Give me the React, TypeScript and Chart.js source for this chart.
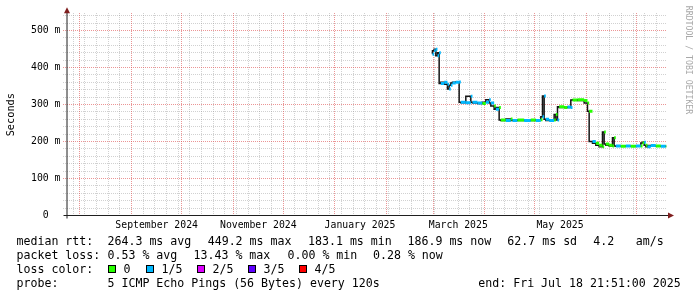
import React, { useEffect, useRef } from "react";
import { Chart, registerables } from "chart.js";

Chart.register(...registerables);

// ---------------- data ----------------
const END_TIME = "2025-07-18T21:51:00Z";
const SPAN_DAYS = 360;

const sampleDates = [
  "2025-02-28", "2025-03-01", "2025-03-02", "2025-03-03", "2025-03-04", "2025-03-05", "2025-03-07", "2025-03-09", "2025-03-10", "2025-03-11", "2025-03-12", "2025-03-14", "2025-03-16",
  "2025-03-17", "2025-03-20", "2025-03-23", "2025-03-24", "2025-03-27", "2025-03-30", "2025-04-01", "2025-04-03", "2025-04-04", "2025-04-06", "2025-04-07", "2025-04-09",
  "2025-04-10", "2025-04-13", "2025-04-16", "2025-04-17", "2025-04-20", "2025-04-24", "2025-04-28", "2025-05-01", "2025-05-04", "2025-05-05", "2025-05-06", "2025-05-07", "2025-05-09", "2025-05-12", "2025-05-13", "2025-05-14",
  "2025-05-15", "2025-05-18", "2025-05-20", "2025-05-22", "2025-05-23", "2025-05-26", "2025-05-30", "2025-06-01", "2025-06-02",
  "2025-06-04", "2025-06-06", "2025-06-08", "2025-06-10", "2025-06-11", "2025-06-12", "2025-06-14", "2025-06-16", "2025-06-17", "2025-06-18", "2025-06-21", "2025-06-24", "2025-06-27", "2025-06-30", "2025-07-03", "2025-07-04", "2025-07-05", "2025-07-06", "2025-07-07", "2025-07-09", "2025-07-12", "2025-07-15", "2025-07-18",
];

const medianRttMs = [
  436, 445, 449, 432, 440, 357, 360, 355, 342, 352, 358, 360, 361,
  306, 305, 322, 306, 304, 303, 306, 313, 304, 296, 287, 292,
  258, 257, 261, 257, 258, 257, 258, 257, 259, 267, 323, 260, 257, 258, 273, 258,
  294, 292, 293, 292, 312, 313, 311, 304, 282,
  200, 195, 190, 186, 226, 193, 190, 188, 210, 188, 187, 188, 187, 188, 188, 196, 198, 190, 186, 189, 188, 187, 187,
];

const lossLevel = [
  1, 1, 1, 1, 1, 1, 1, 1, 1, 1, 1, 1, 1,
  1, 1, 1, 1, 1, 0, 1, 1, 1, 0, 1, 0,
  0, 1, 0, 1, 0, 1, 0, 1, 0, 1, 1, 1, 1, 0, 0, 1,
  0, 0, 1, 1, 0, 0, 0, 0, 0,
  1, 0, 0, 0, 0, 0, 0, 0, 0, 1, 0, 1, 0, 1, 0, 0, 1, 0, 1, 1, 0, 1, 0,
];

const lossLabels = ["0", "1/5", "2/5", "3/5", "4/5"];
const lossColors = ["#26ff00", "#00b8ff", "#dd00ff", "#5e00ff", "#ff0000"];

const xLabelMonths = ["2024-09", "2024-11", "2025-01", "2025-03", "2025-05"];
const xLabelTexts = ["September 2024", "November 2024", "January 2025", "March 2025", "May 2025"];

const yLabelValues = [0, 100, 200, 300, 400, 500];
const yLabelTexts = ["0  ", "100 m", "200 m", "300 m", "400 m", "500 m"];
const Y_MAX = 545;
const Y_MINOR_STEP = 20;
const Y_MAJOR_STEP = 100;

const rttStats = ["264.3 ms avg", "449.2 ms max", "183.1 ms min", "186.9 ms now", "62.7 ms sd", "4.2", "am/s"];
const lossStats = ["0.53 % avg", "13.43 % max", "0.00 % min", "0.28 % now"];
const probeText = "5 ICMP Echo Pings (56 Bytes) every 120s";
const endText = "end: Fri Jul 18 21:51:00 2025";

// ---------------- layout / style ----------------
const W = 697;
const H = 297;
const MONO = "'DejaVu Sans Mono', monospace";
const MINOR_GRID = "rgba(140,140,140,0.4)";
const MAJOR_GRID = "rgba(222,79,79,0.6)";
const ARROW = "#801f1f";
const AXIS = "#1f1f1f";
const DAY = 86400000;

const rttX = [107.5, 207.7, 308, 407.5, 507.3, 593.2, 635.8];
const lossX = [107.5, 193.5, 287.5, 373];
const boxX = [108, 146, 197, 248, 299];
const LEG_LEFT = 16.5;
const LINE_Y = [245, 259, 273, 287];

function gridTimes(xMin: number, xMax: number) {
  const d0 = new Date(xMin);
  const majors: number[] = [];
  let m = d0.getUTCMonth() + 1;
  for (;;) {
    const t = Date.UTC(d0.getUTCFullYear(), m, 1);
    if (t > xMax) break;
    majors.push(t);
    m++;
  }
  const minors: number[] = [];
  let sun = Date.UTC(d0.getUTCFullYear(), d0.getUTCMonth(), d0.getUTCDate() + 1);
  while (new Date(sun).getUTCDay() !== 0) sun += DAY;
  for (let t = sun; t <= xMax; t += 7 * DAY) if (!majors.includes(t)) minors.push(t);
  return { majors, minors };
}

const gridPlugin = {
  id: "rrdGrid",
  beforeDatasetsDraw(chart: any) {
    const ctx: CanvasRenderingContext2D = chart.ctx;
    const { left, right, top, bottom } = chart.chartArea;
    const xs = chart.scales.x;
    const ys = chart.scales.y;
    const { majors, minors } = gridTimes(xs.min, xs.max);
    const x0 = Math.floor(left) - 3;
    const y0 = Math.floor(top);
    const y1 = Math.floor(bottom);
    const x1 = Math.floor(right);
    ctx.save();
    ctx.lineWidth = 1;
    ctx.setLineDash([1, 1]);
    ctx.lineDashOffset = 0;
    const vline = (t: number, color: string) => {
      const px = Math.round(xs.getPixelForValue(t) - 0.5) + 0.5;
      ctx.strokeStyle = color;
      ctx.beginPath();
      ctx.moveTo(px, y0);
      ctx.lineTo(px, y1);
      ctx.stroke();
    };
    const hline = (v: number, color: string) => {
      const py = Math.round(ys.getPixelForValue(v) - 0.5) + 0.5;
      ctx.strokeStyle = color;
      ctx.beginPath();
      ctx.moveTo(x0, py);
      ctx.lineTo(x1, py);
      ctx.stroke();
    };
    for (let v = Y_MINOR_STEP; v <= Y_MAX; v += Y_MINOR_STEP) {
      if (v % Y_MAJOR_STEP !== 0) hline(v, MINOR_GRID);
    }
    minors.forEach((t) => vline(t, MINOR_GRID));
    for (let v = Y_MAJOR_STEP; v <= Y_MAX; v += Y_MAJOR_STEP) hline(v, MAJOR_GRID);
    majors.forEach((t) => vline(t, MAJOR_GRID));
    ctx.restore();
  },
};

const decorPlugin = {
  id: "rrdDecor",
  afterDraw(chart: any) {
    const ctx: CanvasRenderingContext2D = chart.ctx;
    const { left, right, top, bottom } = chart.chartArea;
    ctx.save();
    // axes
    ctx.strokeStyle = AXIS;
    ctx.lineWidth = 1;
    ctx.beginPath();
    ctx.moveTo(left - 3, bottom);
    ctx.lineTo(right + 2, bottom);
    ctx.stroke();
    ctx.beginPath();
    ctx.moveTo(left + 0.5, top - 1);
    ctx.lineTo(left + 0.5, bottom + 3);
    ctx.stroke();
    // arrows
    ctx.fillStyle = ARROW;
    ctx.beginPath();
    ctx.moveTo(left + 0.5, top - 6.5);
    ctx.lineTo(left - 2.5, top - 0.5);
    ctx.lineTo(left + 3.5, top - 0.5);
    ctx.closePath();
    ctx.fill();
    ctx.beginPath();
    ctx.moveTo(right + 7.5, bottom);
    ctx.lineTo(right + 1.5, bottom - 3);
    ctx.lineTo(right + 1.5, bottom + 3);
    ctx.closePath();
    ctx.fill();

    // y title
    ctx.fillStyle = "#000";
    ctx.save();
    ctx.translate(11.5, (top + bottom) / 2);
    ctx.rotate(-Math.PI / 2);
    ctx.font = `10.3px ${MONO}`;
    ctx.textAlign = "center";
    ctx.textBaseline = "middle";
    ctx.fillText("Seconds", 0, 0);
    ctx.restore();

    // watermark
    ctx.save();
    ctx.translate(688, 60);
    ctx.rotate(Math.PI / 2);
    ctx.font = `8.2px ${MONO}`;
    ctx.fillStyle = "#a8a8a8";
    ctx.textAlign = "center";
    ctx.textBaseline = "middle";
    ctx.fillText("RRDTOOL / TOBI OETIKER", 0, 0);
    ctx.restore();

    // legend text
    ctx.font = `11.6px ${MONO}`;
    ctx.fillStyle = "#000";
    ctx.textAlign = "left";
    ctx.textBaseline = "alphabetic";
    ctx.fillText("median rtt:", LEG_LEFT, LINE_Y[0]);
    rttStats.forEach((s, i) => ctx.fillText(s, rttX[i], LINE_Y[0]));
    ctx.fillText("packet loss:", LEG_LEFT, LINE_Y[1]);
    lossStats.forEach((s, i) => ctx.fillText(s, lossX[i], LINE_Y[1]));
    ctx.fillText("loss color:", LEG_LEFT, LINE_Y[2]);
    lossLabels.forEach((s, i) => {
      ctx.fillStyle = "#000";
      ctx.fillRect(boxX[i], LINE_Y[2] - 8, 8, 8);
      ctx.fillStyle = lossColors[i];
      ctx.fillRect(boxX[i] + 1, LINE_Y[2] - 7, 6, 6);
      ctx.fillStyle = "#000";
      ctx.fillText(s, boxX[i] + 15.5, LINE_Y[2]);
    });
    ctx.fillText("probe:", LEG_LEFT, LINE_Y[3]);
    ctx.fillText(probeText, 107.5, LINE_Y[3]);
    ctx.fillText(endText, 478.3, LINE_Y[3]);
    ctx.restore();
  },
};

export default function App() {
  const ref = useRef<HTMLCanvasElement>(null);

  useEffect(() => {
    const canvas = ref.current;
    if (!canvas) return;
    const xMax = Date.parse(END_TIME);
    const xMin = xMax - SPAN_DAYS * DAY;
    const toTs = (d: string) => Date.parse(d + "T12:00:00Z");

    // x labels centred mid-month
    const labelMap = new Map<number, string>();
    xLabelMonths.forEach((ym, i) => {
      const [yy, mm] = ym.split("-").map(Number);
      labelMap.set(Date.UTC(yy, mm - 1, 1) + 15 * DAY, xLabelTexts[i]);
    });
    const xTicks = Array.from(labelMap.keys()).sort((a, b) => a - b);

    const yLabelMap = new Map<number, string>();
    yLabelValues.forEach((v, i) => yLabelMap.set(v, yLabelTexts[i]));

    // datasets
    const pts = sampleDates.map((d, i) => ({ x: toTs(d), y: medianRttMs[i] }));
    const stepData = [...pts, { x: xMax, y: medianRttMs[medianRttMs.length - 1] }];
    const colored: { x: number; y: number | null; loss: number }[] = [];
    pts.forEach((p, i) => {
      const x1 = i + 1 < pts.length ? pts[i + 1].x : xMax;
      colored.push({ x: p.x, y: p.y, loss: lossLevel[i] });
      colored.push({ x: x1, y: p.y, loss: lossLevel[i] });
      colored.push({ x: x1, y: null, loss: lossLevel[i] });
    });

    const chart = new Chart(canvas, {
      type: "line",
      data: {
        datasets: [
          {
            label: "smoke",
            data: stepData as any,
            stepped: "after",
            borderColor: "#151515",
            borderWidth: 1.5,
            pointRadius: 0,
            fill: false,
            order: 2,
          },
          {
            label: "median",
            data: colored as any,
            borderColor: lossColors[0],
            segment: {
              borderColor: (c: any) => lossColors[colored[c.p0DataIndex].loss],
            },
            borderWidth: 3,
            borderCapStyle: "butt",
            pointRadius: 0,
            spanGaps: false,
            fill: false,
            order: 1,
          },
        ],
      },
      options: {
        responsive: false,
        animation: false,
        devicePixelRatio: 1,
        layout: { padding: { top: 13.85, right: 30.5, bottom: 61.5, left: 0 } },
        plugins: {
          legend: { display: false },
          tooltip: { enabled: false },
          title: { display: false },
        },
        scales: {
          x: {
            type: "linear",
            min: xMin,
            max: xMax,
            afterBuildTicks: (s: any) => {
              s.ticks = xTicks.map((v) => ({ value: v }));
            },
            afterFit: (s: any) => {
              s.height = 20;
            },
            grid: { display: false, drawTicks: false },
            border: { display: false },
            ticks: {
              autoSkip: false,
              maxRotation: 0,
              minRotation: 0,
              padding: 4,
              color: "#000",
              font: { family: MONO, size: 9.8 },
              callback: (v: any) => labelMap.get(Number(v)) ?? "",
            },
          },
          y: {
            type: "linear",
            min: 0,
            max: Y_MAX,
            afterBuildTicks: (s: any) => {
              s.ticks = yLabelValues.map((v) => ({ value: v }));
            },
            afterFit: (s: any) => {
              s.width = 66.5;
            },
            grid: { display: false, drawTicks: false },
            border: { display: false },
            ticks: {
              autoSkip: false,
              padding: 6,
              color: "#000",
              font: { family: MONO, size: 9.8 },
              callback: (v: any) => yLabelMap.get(Number(v)) ?? "",
            },
          },
        },
      },
      plugins: [gridPlugin, decorPlugin],
    } as any);

    return () => chart.destroy();
  }, []);

  return (
    <div style={{ position: "absolute", left: 0, top: 0, width: W, height: H, background: "#fff" }}>
      <canvas ref={ref} width={W} height={H} style={{ display: "block", width: W, height: H }} />
    </div>
  );
}
